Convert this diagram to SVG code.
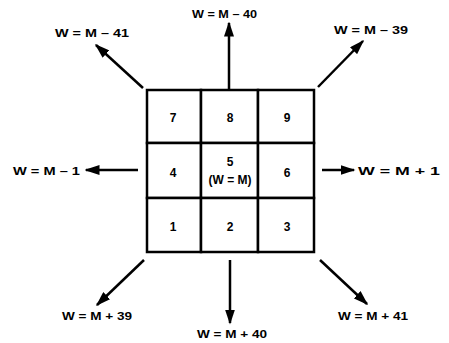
<svg xmlns="http://www.w3.org/2000/svg" width="449" height="343" viewBox="0 0 449 343">
<style>
.lbl{font-family:"Liberation Sans",Arial,sans-serif;font-weight:bold;font-size:11px;fill:#000}
.num{font-family:"Liberation Sans",Arial,sans-serif;font-weight:bold;font-size:12px;fill:#000;text-anchor:middle}
.cell{fill:#fff;stroke:#000;stroke-width:2.5}
.conn{stroke:#000;stroke-width:2.5;fill:none;marker-end:url(#ah)}
</style>
<defs>
<marker id="ah" viewBox="0 0 10 10" refX="9" refY="5" markerWidth="6" markerHeight="4" markerUnits="strokeWidth" orient="auto" preserveAspectRatio="none">
<path d="M0,0 L10,5 L0,10 z" fill="#000"/>
</marker>
</defs>
<rect width="449" height="343" fill="#fff"/>
<g id="grid">
<g id="c7"><rect class="cell" x="147" y="90" width="54" height="53"/><text class="num" x="173" y="122">7</text></g>
<g id="c8"><rect class="cell" x="201" y="90" width="57" height="53"/><text class="num" x="230" y="122">8</text></g>
<g id="c9"><rect class="cell" x="258" y="90" width="56" height="53"/><text class="num" x="287" y="122">9</text></g>
<g id="c4"><rect class="cell" x="147" y="143" width="54" height="55"/><text class="num" x="173" y="177">4</text></g>
<g id="c5"><rect class="cell" x="201" y="143" width="57" height="55"/><text class="num" x="230" y="166">5</text><text class="num" x="230" y="184" font-size="11">(W = M)</text></g>
<g id="c6"><rect class="cell" x="258" y="143" width="56" height="55"/><text class="num" x="287" y="177">6</text></g>
<g id="c1"><rect class="cell" x="147" y="198" width="54" height="54"/><text class="num" x="173" y="231">1</text></g>
<g id="c2"><rect class="cell" x="201" y="198" width="57" height="54"/><text class="num" x="230" y="231">2</text></g>
<g id="c3"><rect class="cell" x="258" y="198" width="56" height="54"/><text class="num" x="287" y="231">3</text></g>
</g>
<g id="connectors">
<line class="conn" x1="229" y1="89" x2="229" y2="23"/>
<line class="conn" x1="143" y1="88" x2="96" y2="45"/>
<line class="conn" x1="318" y1="87" x2="363" y2="41"/>
<line class="conn" x1="138" y1="170" x2="86" y2="170"/>
<line class="conn" x1="322" y1="170" x2="354" y2="170"/>
<line class="conn" x1="144" y1="260" x2="97" y2="305"/>
<line class="conn" x1="230" y1="260" x2="230" y2="323"/>
<line class="conn" x1="320" y1="260" x2="367" y2="304"/>
</g>
<g id="labels">
<text class="lbl" x="55" y="37" textLength="74" lengthAdjust="spacingAndGlyphs">W = M – 41</text>
<text class="lbl" x="192" y="18" textLength="65" lengthAdjust="spacingAndGlyphs">W = M – 40</text>
<text class="lbl" x="334" y="34" textLength="74" lengthAdjust="spacingAndGlyphs">W = M – 39</text>
<text class="lbl" x="13" y="175" textLength="67" lengthAdjust="spacingAndGlyphs">W = M – 1</text>
<text class="lbl" x="358" y="175" textLength="82" lengthAdjust="spacingAndGlyphs">W = M + 1</text>
<text class="lbl" x="62" y="320" textLength="70" lengthAdjust="spacingAndGlyphs">W = M + 39</text>
<text class="lbl" x="197" y="338" textLength="70" lengthAdjust="spacingAndGlyphs">W = M + 40</text>
<text class="lbl" x="338" y="320" textLength="70" lengthAdjust="spacingAndGlyphs">W = M + 41</text>
</g>
</svg>
